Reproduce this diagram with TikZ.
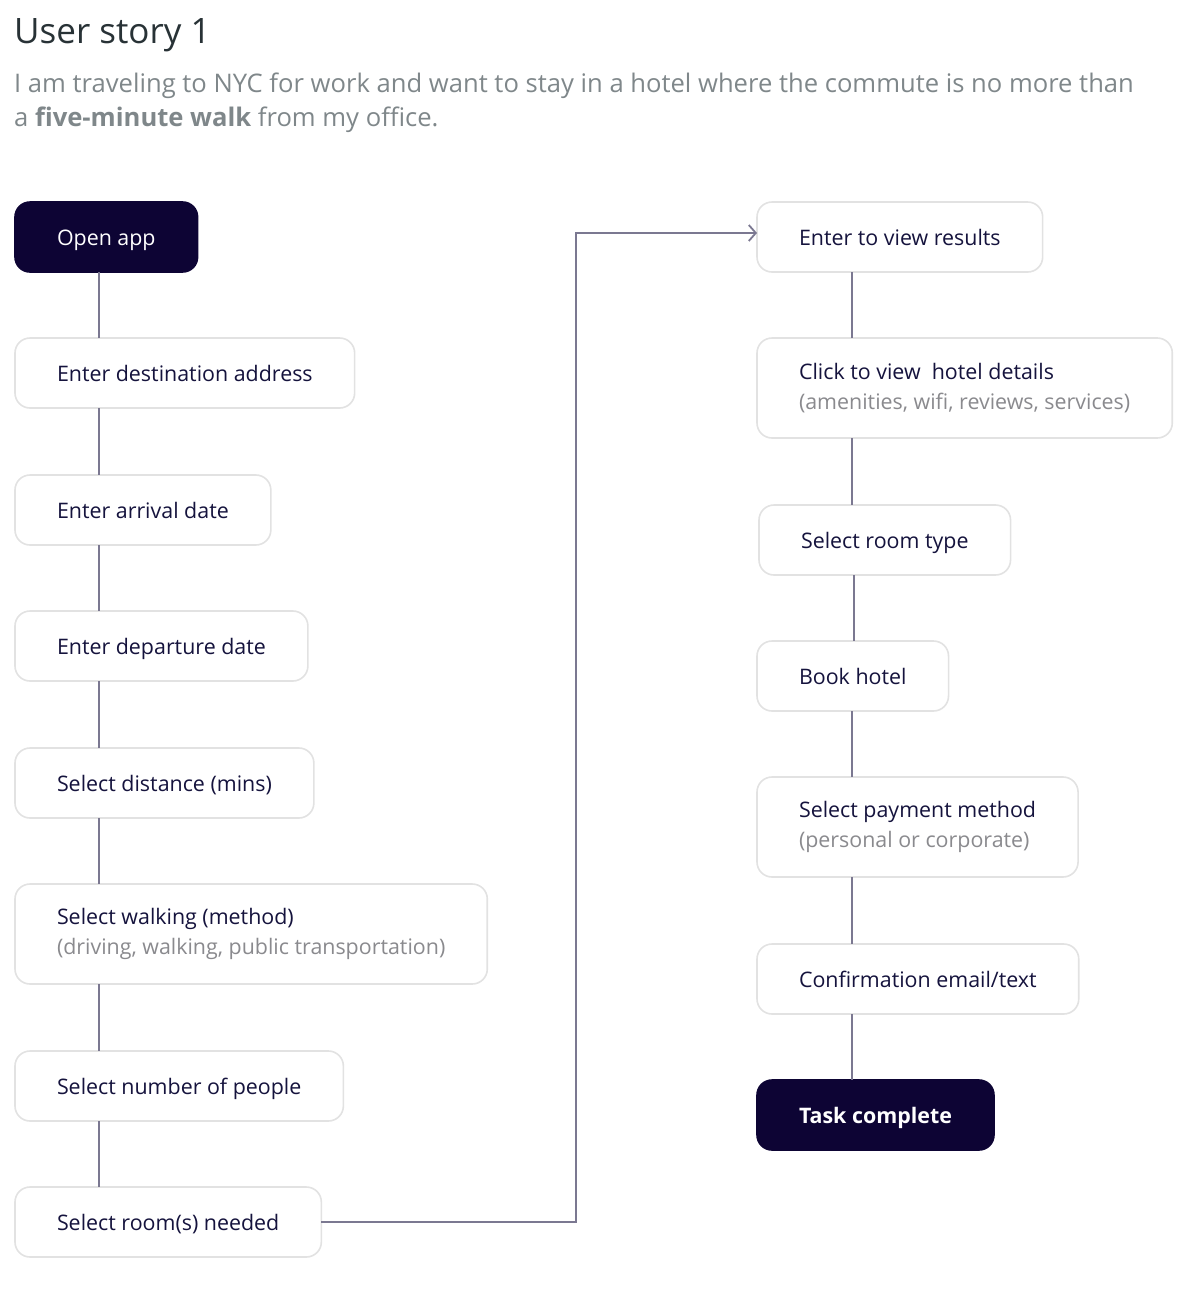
\documentclass[tikz,border=0pt]{standalone}
\usepackage{fontspec}
\setmainfont{Open Sans}
\usepackage{xcolor}
\usetikzlibrary{arrows.meta,positioning}

\definecolor{navy}{HTML}{0D0434}
\definecolor{ink}{HTML}{15133D}
\definecolor{titlegray}{HTML}{283236}
\definecolor{storygray}{HTML}{7F878A}
\definecolor{notegray}{HTML}{8A8A8E}
\definecolor{wire}{HTML}{7B7891}
\definecolor{rim}{HTML}{E2E2E2}

\newcommand{\note}[1]{{\color{notegray}#1}}

\begin{document}
\begin{tikzpicture}[
  x=1pt, y=-1pt,
  node distance=66pt,
  stepbox/.style={draw=rim, line width=1.6pt, rounded corners=15pt, fill=white, outer sep=0pt,
    minimum height=70pt, inner xsep=42pt, inner ysep=0pt, align=left,
    text height=19.5pt, text depth=2.5pt,
    text=ink, font=\fontsize{21.4}{30}\selectfont},
  tallbox/.style={stepbox, minimum height=100pt, text height={}, text depth={}},
  endbox/.style={stepbox, draw=navy, fill=navy, text=white},
  flow/.style={draw=wire, line width=2.6pt},
  go/.style={draw=wire, line width=1.8pt, -{Straight Barb[length=7pt, width=16pt, line width=1.8pt]}}
]
  \useasboundingbox (0,0) rectangle (1193,1302);

  % heading
  \node[anchor=base west, inner sep=0pt, text=titlegray, font=\fontsize{35}{40}\selectfont] (title) at (14,43) {User story 1};
  \node[anchor=base west, inner sep=0pt, align=left, text=storygray, font=\fontsize{25.6}{34}\selectfont] (story) at (14,126)
    {I am traveling to NYC for work and want to stay in a hotel where the commute is no more than\\
     a \textbf{five-minute walk} from my office.};

  % left column
  \node[endbox, anchor=north west] (open) at (15,202) {Open app};
  \node[stepbox, below=of open.south west, anchor=north west] (dest) {Enter destination address};
  \node[stepbox, below=67pt of dest.south west, anchor=north west] (arrival) {Enter arrival date};
  \node[stepbox, below=of arrival.south west, anchor=north west] (departure) {Enter departure date};
  \node[stepbox, below=67pt of departure.south west, anchor=north west] (distance) {Select distance (mins)};
  \node[tallbox, below=of distance.south west, anchor=north west] (method) {Select walking (method)\\\note{(driving, walking, public transportation)}};
  \node[stepbox, below=67pt of method.south west, anchor=north west] (people) {Select number of people};
  \node[stepbox, below=of people.south west, anchor=north west] (rooms) {Select room(s) needed};

  % right column
  \node[stepbox, anchor=north west] (results) at (757,202) {Enter to view results};
  \node[tallbox, below=of results.south west, anchor=north west] (details) {Click to view~ hotel details\\\note{(amenities, wifi, reviews, services)}};
  \node[stepbox, below=67pt of details.south west, anchor=north west, xshift=2pt] (roomtype) {Select room type};
  \node[stepbox, below=of roomtype.south west, anchor=north west, xshift=-2pt] (book) {Book hotel};
  \node[tallbox, below=of book.south west, anchor=north west] (payment) {Select payment method\\\note{(personal or corporate)}};
  \node[stepbox, below=67pt of payment.south west, anchor=north west] (confirm) {Confirmation email/text};
  \node[endbox, below=of confirm.south west, anchor=north west, font=\fontsize{21.4}{30}\selectfont\bfseries] (done) {Task complete};

  % connectors
  \foreach \a/\b in {open/dest, dest/arrival, arrival/departure, departure/distance,
                     distance/method, method/people, people/rooms}
    \draw[flow] ([xshift=84pt]\a.south west) -- ([xshift=84pt]\b.north west);
  \foreach \a/\b in {results/details, details/roomtype, roomtype/book, book/payment,
                     payment/confirm, confirm/done}
    \draw[flow] ([xshift=95pt]\a.south west) -- ([xshift=95pt]\a.south west |- \b.north);

  \draw[go] (rooms.east) -| ([xshift=-181pt, yshift=4pt]results.west) -- ([yshift=4pt]results.west);
\end{tikzpicture}
\end{document}
